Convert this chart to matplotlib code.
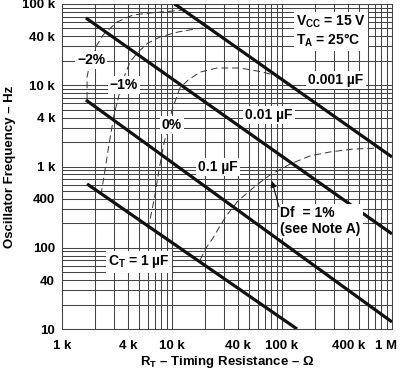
import matplotlib
matplotlib.use('Agg')
import matplotlib.pyplot as plt
import matplotlib.transforms as mtransforms
from matplotlib.ticker import LogLocator

plt.rcParams['font.family'] = ['Liberation Sans', 'DejaVu Sans']
plt.rcParams['mathtext.fontset'] = 'custom'
plt.rcParams['mathtext.bf'] = 'Liberation Sans:bold'
plt.rcParams['mathtext.rm'] = 'Liberation Sans:bold'

# timing capacitor lines (end points)
ct_names = ['0.001 µF', '0.01 µF', '0.1 µF', '1 µF']
ct_r = [[10.6e3, 1e6], [1.65e3, 1e6], [1.65e3, 1e6], [1.69e3, 137e3]]
ct_f = [[100e3, 1.31e3], [67.3e3, 148], [6.58e3, 12.2], [610, 10]]

# frequency drift curves
df_names = ['-2%', '-1%', '0%', '1%']
df_r = [
    [1.69e3, 1.69e3, 1.80e3, 2.08e3, 2.36e3, 3.16e3, 4.42e3, 6.31e3, 10.2e3, 12.3e3],
    [2.26e3, 2.46e3, 2.67e3, 2.97e3, 3.30e3, 3.66e3, 4.15e3, 4.91e3, 6.05e3, 7.78e3,
     11.3e3, 16.2e3, 22.1e3],
    [6.05e3, 6.58e3, 7.0e3, 7.62e3, 8.46e3, 9.2e3, 10e3, 11.8e3, 14e3, 18e3, 25.6e3,
     41.5e3, 67.2e3, 90.1e3],
    [18e3, 20.4e3, 23.6e3, 27.3e3, 31.6e3, 39e3, 48.1e3, 60.5e3, 77.8e3, 118e3, 180e3,
     273e3, 442e3, 811e3],
]
df_f = [
    [6.78e3, 12.6e3, 19.3e3, 31.3e3, 41.5e3, 60e3, 73.3e3, 77.4e3, 82e3, 84.4e3],
    [446, 905, 1.84e3, 4.31e3, 7.59e3, 12.6e3, 19.3e3, 25.6e3, 33.1e3, 39.3e3, 45.2e3,
     49.2e3, 52.1e3],
    [170, 291, 446, 905, 1.95e3, 2.98e3, 4.96e3, 9.25e3, 11.6e3, 14.5e3, 16.3e3, 16.3e3,
     14.5e3, 13.0e3],
    [70.6, 99.3, 132, 185, 253, 365, 472, 610, 786, 1.07e3, 1.35e3, 1.51e3, 1.64e3,
     1.69e3],
]

x_ticks = [1e3, 4e3, 1e4, 4e4, 1e5, 4e5, 1e6]
x_labels = ['1 k', '4 k', '10 k', '40 k', '100 k', '400 k', '1 M']
y_ticks = [10, 40, 100, 400, 1e3, 4e3, 1e4, 4e4, 1e5]
y_labels = ['10', '40', '100', '400', '1 k', '4 k', '10 k', '40 k', '100 k']

fig = plt.figure(figsize=(4.02, 3.72), dpi=100)
ax = fig.add_axes([62 / 402, 1 - 329 / 372, 330 / 402, 325 / 372])
ax.set_xscale('log')
ax.set_yscale('log')
ax.set_xlim(1e3, 1e6)
ax.set_ylim(10, 1e5)

gc = '#444444'
for s in ax.spines.values():
    s.set_color(gc)
    s.set_linewidth(0.75)

for r, f in zip(ct_r, ct_f):
    ax.plot(r, f, color='#111111', lw=2.3, solid_capstyle='butt', zorder=4)
for r, f in zip(df_r, df_f):
    ax.plot(r, f, color='#333333', lw=0.7, ls=(0, (7, 4)), zorder=3)

ax.set_xticks(x_ticks)
ax.set_xticklabels(x_labels)
ax.set_yticks(y_ticks)
ax.set_yticklabels(y_labels)
ax.xaxis.set_minor_locator(LogLocator(base=10, subs=range(2, 10), numticks=20))
ax.yaxis.set_minor_locator(LogLocator(base=10, subs=range(2, 10), numticks=20))
ax.grid(True, which='both', color=gc, lw=0.75)
ax.tick_params(which='both', length=0)
ax.tick_params(axis='x', pad=8, labelsize=9.5)
ax.tick_params(axis='y', pad=5, labelsize=9.5)
for t in ax.get_xticklabels() + ax.get_yticklabels():
    t.set_fontweight('bold')
# last x label sits a little inside the right edge
last = ax.get_xticklabels()[-1]
last.set_transform(last.get_transform() + mtransforms.ScaledTranslation(-6 / 100, 0, fig.dpi_scale_trans))

ax.set_xlabel('R$_\\mathbf{T}$ – Timing Resistance – Ω', fontsize=9.5, fontweight='bold', labelpad=1)
ax.set_ylabel('Oscillator Frequency – Hz', fontsize=9.5, fontweight='bold', labelpad=4)

box = dict(facecolor='white', edgecolor='none', pad=1.5)
kw = dict(fontsize=10, fontweight='bold', ha='center', va='center', bbox=box, zorder=5)
ax.text(1.84e3, 20.5e3, '−2%', **kw)
ax.text(3.66e3, 10.1e3, '−1%', **kw)
ax.text(10e3, 3.25e3, '0%', **kw)
ax.text(310e3, 11.6e3, ct_names[0], **kw)
ax.text(76.2e3, 4.31e3, ct_names[1], **kw)
ax.text(26.2e3, 986, ct_names[2], **kw)
ax.text(5.01e3, 66.9, 'C$_\\mathbf{T}$ = ' + ct_names[3], **kw)
ax.text(134e3, 45.9e3, 'V$_\\mathbf{CC}$ = 15 V\nT$_\\mathbf{A}$ = 25°C', fontsize=10,
        fontweight='bold', ha='left', va='center', bbox=box, zorder=5, linespacing=1.1)
ax.text(96e3, 213, 'Df  = 1%\n(see Note A)', fontsize=10, fontweight='bold', ha='left',
        va='center', bbox=box, zorder=5, linespacing=1.15)
ax.annotate('', xy=(81e3, 664), xytext=(94e3, 318),
            arrowprops=dict(arrowstyle='-|>', color='#111111', lw=0.8,
                            mutation_scale=9, shrinkA=0, shrinkB=0), zorder=6)

fig.savefig('out.png', dpi=100)
